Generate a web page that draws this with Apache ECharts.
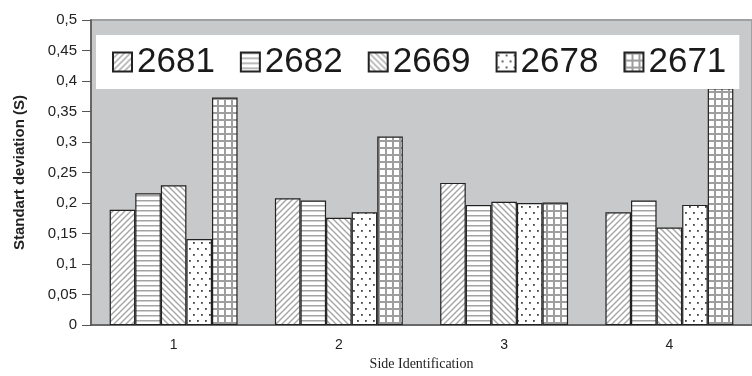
<!DOCTYPE html>
<html>
<head>
<meta charset="utf-8">
<script src="https://cdn.jsdelivr.net/npm/echarts@6/dist/echarts.min.js"></script>
<style>
  html, body { margin: 0; padding: 0; background: #fff; }
  #chart { width: 752px; height: 376px; }
</style>
</head>
<body>
<div id="chart"></div>
<script>
// Sides on the x axis
const sides = ['1', '2', '3', '4'];
// Standard deviation per sample, one value per side
const s2681 = [0.189, 0.208, 0.233, 0.185];
const s2682 = [0.216, 0.204, 0.197, 0.204];
const s2669 = [0.229, 0.176, 0.202, 0.160];
const s2678 = [0.141, 0.185, 0.200, 0.197];
const s2671 = [0.373, 0.309, 0.201, 0.388];
const seriesNames = ['2681', '2682', '2669', '2678', '2671'];
const yTicks = { min: 0, max: 0.5, step: 0.05 };

// Hatch fills drawn onto small canvases and tiled by ECharts
function tile(w, h, draw) {
  const c = document.createElement('canvas');
  c.width = w; c.height = h;
  const g = c.getContext('2d');
  g.fillStyle = '#fff';
  g.fillRect(0, 0, w, h);
  draw(g, w, h);
  return { image: c, repeat: 'repeat' };
}
function diag(up) {
  return tile(6, 6, (g, w, h) => {
    g.strokeStyle = '#a6a6a6';
    g.lineWidth = 1.4;
    const lines = up
      ? [[-1, 7, 7, -1], [-1, 1, 1, -1], [5, 7, 7, 5]]
      : [[-1, -1, 7, 7], [5, -1, 7, 1], [-1, 5, 1, 7]];
    lines.forEach(l => { g.beginPath(); g.moveTo(l[0], l[1]); g.lineTo(l[2], l[3]); g.stroke(); });
  });
}
const fills = [
  diag(true),
  tile(4, 5, (g) => { g.fillStyle = '#a3a3a3'; g.fillRect(0, 0, 4, 1.5); }),
  diag(false),
  tile(8, 12, (g) => { g.fillStyle = '#444'; g.fillRect(1, 2, 1.8, 1.8); g.fillRect(5, 8, 1.8, 1.8); }),
  tile(7, 7, (g) => { g.fillStyle = '#9e9e9e'; g.fillRect(0, 0, 7, 2); g.fillRect(0, 0, 2, 7); })
];

const values = [s2681, s2682, s2669, s2678, s2671];
const series = values.map((v, i) => ({
  name: seriesNames[i],
  type: 'bar',
  data: v,
  barGap: '0%',
  barCategoryGap: '22.6%',
  itemStyle: { color: fills[i], borderColor: '#222', borderWidth: 1.2 }
}));

const chart = echarts.init(document.getElementById('chart'), null, { renderer: 'canvas' });
chart.setOption({
  animation: false,
  backgroundColor: '#fff',
  grid: {
    left: 91, top: 20, right: -6, bottom: 48,
    show: true, backgroundColor: '#c8c9cb', borderColor: '#a0a0a0', borderWidth: 2
  },
  legend: {
    data: seriesNames,
    orient: 'horizontal',
    left: 96, top: 35, width: 630,
    backgroundColor: '#fff',
    padding: [9, 13, 9, 16],
    itemWidth: 19, itemHeight: 19, itemGap: 25,
    icon: 'rect',
    textStyle: { fontSize: 35, fontFamily: 'Liberation Sans, Arial, sans-serif', color: '#1a1a1a', lineHeight: 36 }
  },
  xAxis: [{
    type: 'category',
    data: sides,
    position: 'bottom',
    name: 'Side Identification',
    nameLocation: 'middle',
    nameGap: 31,
    nameTextStyle: { fontFamily: 'Liberation Serif, Times New Roman, serif', fontSize: 14, color: '#222' },
    axisLine: { lineStyle: { color: '#555', width: 1.5 } },
    axisTick: { length: 6, lineStyle: { color: '#555' } },
    axisLabel: { fontSize: 14, color: '#222', fontFamily: 'Liberation Sans, Arial, sans-serif', margin: 13 }
  }, {
    type: 'category',
    data: sides,
    position: 'bottom',
    axisLine: { show: false },
    axisTick: { inside: true, length: 4, lineStyle: { color: '#555' } },
    axisLabel: { show: false }
  }],
  yAxis: {
    type: 'value',
    min: yTicks.min, max: yTicks.max, interval: yTicks.step,
    name: 'Standart deviation (S)',
    nameLocation: 'middle',
    nameRotate: 90,
    nameGap: 64,
    nameTextStyle: { fontSize: 15, fontWeight: 'bold', color: '#222', fontFamily: 'Liberation Sans, Arial, sans-serif' },
    axisLine: { show: true, lineStyle: { color: '#555', width: 1.5 } },
    axisTick: { show: true, length: 9, lineStyle: { color: '#555' } },
    splitLine: { show: false },
    axisLabel: {
      fontSize: 15, color: '#222', margin: 14,
      fontFamily: 'Liberation Sans, Arial, sans-serif',
      formatter: v => String(Number(v.toFixed(2))).replace('.', ',')
    }
  },
  series: series
});
</script>
</body>
</html>
